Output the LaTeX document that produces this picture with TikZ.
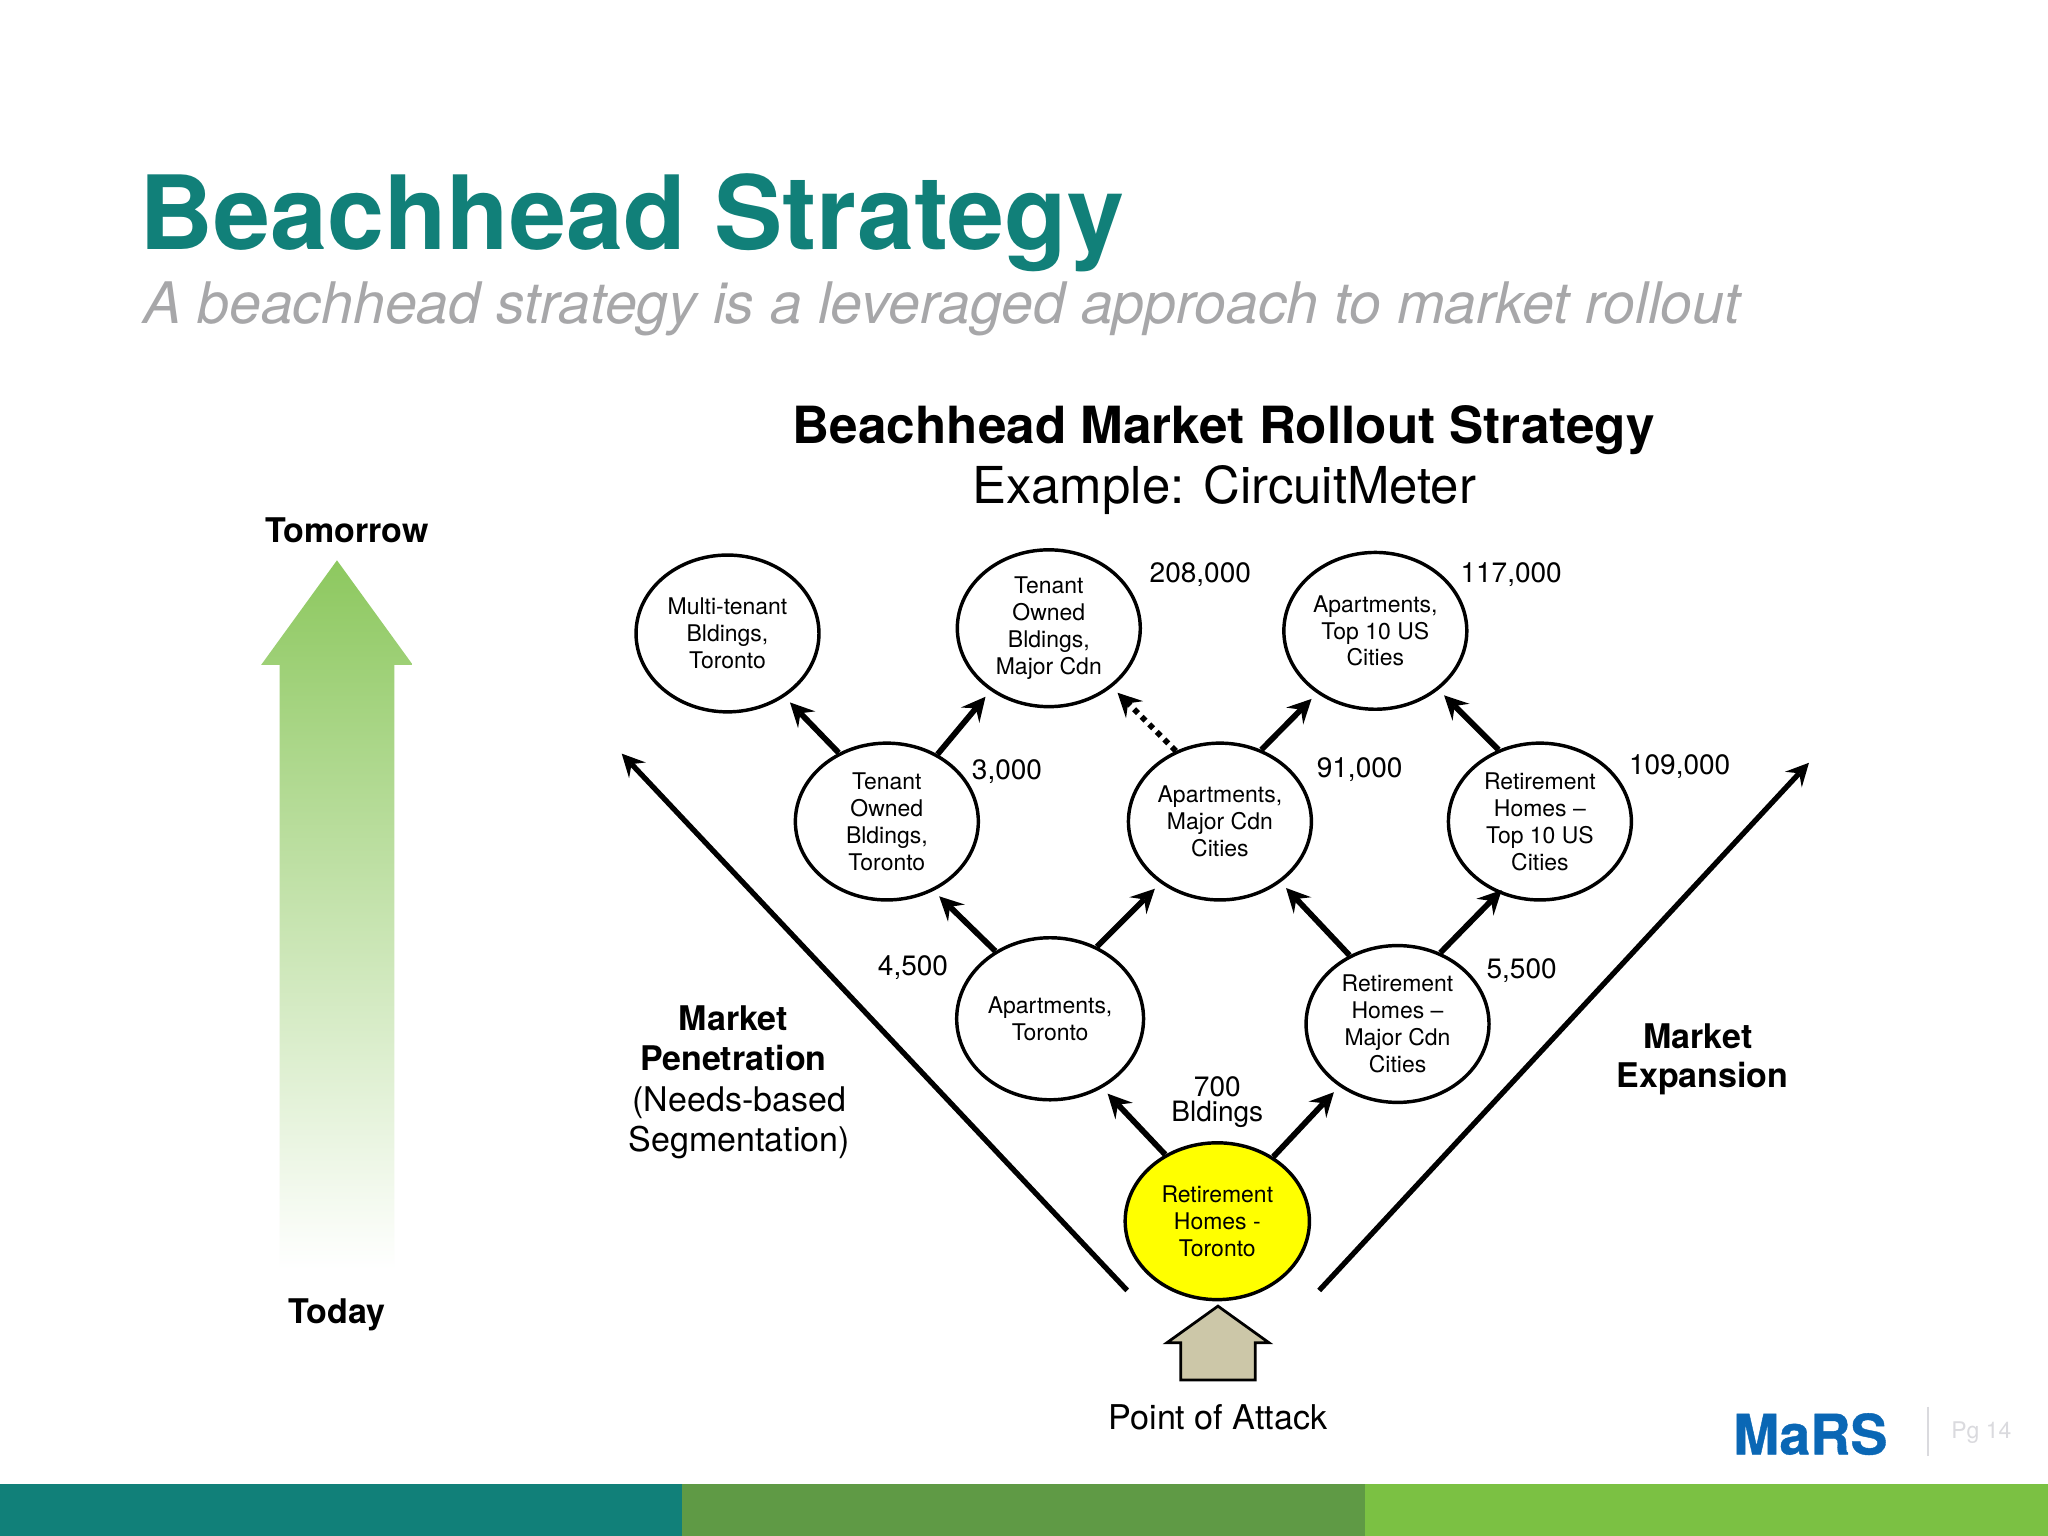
\documentclass[tikz,border=0pt]{standalone}
\usepackage{fontspec}
\usetikzlibrary{shapes.geometric}
\setmainfont{TeX Gyre Heros}
\newfontfamily\logofont[BoldFeatures={FakeBold=0.7}]{TeX Gyre Heros}
\definecolor{teal1}{HTML}{118079}
\definecolor{olive1}{HTML}{5F9A45}
\definecolor{green1}{HTML}{7BC143}
\definecolor{green2}{HTML}{8DC85F}
\definecolor{grey1}{HTML}{A7A7A9}
\definecolor{grey2}{HTML}{DADADE}
\definecolor{blue1}{HTML}{0A67B5}
\definecolor{sand1}{HTML}{CCC7A8}
\definecolor{yellow1}{HTML}{FFFF00}
\newcommand{\fs}[2]{\fontsize{#1}{#2}\selectfont}
\tikzset{
  seg/.style={ellipse,draw,line width=0.75pt,minimum width=1.4cm,minimum height=1.2cm,inner sep=0pt,align=center,font=\fs{5}{5.85}},
  num/.style={inner sep=0pt,font=\fs{6.1}{7.3}},
  side/.style={inner sep=0pt,align=center,font=\fs{7.4}{8.8}},
  when/.style={inner sep=0pt,font=\bfseries\fs{7.4}{8.8}},
  link/.style={>=stealth,->,line width=1.25pt},
  vee/.style={>=stealth,->,line width=1.15pt}
}
\begin{document}
\begin{tikzpicture}[x=0.01cm,y=-0.01cm]
\useasboundingbox (0,0) rectangle (1568,1176);
\fill[white] (0,0) rectangle (1568,1176);
\fill[teal1] (0,1136) rectangle (522,1176);
\fill[olive1] (522,1136) rectangle (1045,1176);
\fill[green1] (1045,1136) rectangle (1568,1176);
\node[inner sep=0pt,anchor=base west,text=teal1,font=\bfseries\fs{22.3}{26}] (title) at (106,191) {Beachhead Strategy};
\node[inner sep=0pt,anchor=base west,text=grey1,font=\itshape\fs{12.47}{16}] (subtitle) at (109,248) {A beachhead strategy is a leveraged approach to market rollout};
\node[inner sep=0pt,font=\bfseries\fs{11.16}{13}] (head) at (937,329) {Beachhead Market Rollout Strategy};
\node[inner sep=0pt,font=\fs{11.08}{13}] (example) at (937.5,375) {Example: CircuitMeter};
\node[when] (tomorrow) at (265.5,406) {Tomorrow};
\node[when] (today) at (258,1007) {Today};
\shade[top color=green2,bottom color=white] (258,429) -- (316,509) -- (302,509) -- (302,972) -- (214,972) -- (214,509) -- (200,509) -- cycle;
\node[seg] (multi) at (557,485) {Multi-tenant\\Bldings,\\Toronto};
\node[seg] (tenmaj) at (803,481) {Tenant\\Owned\\Bldings,\\Major Cdn};
\node[seg] (apttop) at (1053,483) {Apartments,\\Top 10 US\\Cities};
\node[seg] (tentor) at (679,629) {Tenant\\Owned\\Bldings,\\Toronto};
\node[seg] (aptmaj) at (934,629) {Apartments,\\Major Cdn\\Cities};
\node[seg] (rettop) at (1179,629) {Retirement\\Homes --\\Top 10 US\\Cities};
\node[seg,minimum width=1.43cm,minimum height=1.24cm] (apttor) at (804,780) {Apartments,\\Toronto};
\node[seg] (retmaj) at (1070,784) {Retirement\\Homes --\\Major Cdn\\Cities};
\node[seg,minimum width=1.41cm,fill=yellow1] (start) at (932,935) {Retirement\\Homes -\\Toronto};
\foreach \a/\s/\b/\e in {start/128/apttor/-53,start/49/retmaj/-133,apttor/129/tentor/-56,apttor/57/aptmaj/-134,retmaj/125/aptmaj/-45,tentor/125/multi/-48,tentor/53/tenmaj/-133,aptmaj/60/apttop/-133,rettop/120/apttop/-43}
\draw[link,shorten >=1.7pt] (\a.\s) -- (\b.\e);
\draw[link,shorten >=-1pt] (retmaj.59) -- (rettop.-120);
\draw[link,shorten >=1.7pt,dash pattern=on 1.2pt off 1.13pt] (aptmaj.122) -- (tenmaj.-43);
\coordinate (leftend) at (863,988);
\coordinate (lefttip) at (476,577);
\coordinate (rightend) at (1010,988);
\coordinate (righttip) at (1385,584);
\draw[vee] (leftend) -- (lefttip);
\draw[vee] (rightend) -- (righttip);
\foreach \i/\x/\y/\t in {a/919/440/{208,000},b/1157/440/{117,000},c/771/591/{3,000},d/1041/589/{91,000},e/1286/587/{109,000},f/699/741/{4,500},g/1165/743/{5,500}}
\node[num] (count\i) at (\x,\y) {\t};
\node[num,align=center,font=\fs{6.1}{5.55}] (countstart) at (932,844) {700\\Bldings};
\node[side] (penetration) at (566,828.5) {\textbf{Market}\kern2.56pt\\\textbf{Penetration}\kern2.56pt\\(Needs-based\\Segmentation)};
\node[side,font=\bfseries\fs{7.4}{8.6}] (expansion) at (1303.5,811) {Market\kern2pt\\Expansion};
\draw[line width=0.6pt,fill=sand1] (932.5,1000) -- (971.5,1028) -- (961,1028) -- (961,1056.5) -- (904,1056.5) -- (904,1028) -- (893.5,1028) -- cycle;
\node[inner sep=0pt,font=\fs{7.43}{8}] (attack) at (932.5,1085) {Point of Attack};
\node[inner sep=0pt,text=blue1,font=\logofont\bfseries\fs{12.1}{13}] (logo) at (1386,1098) {MaRS};
\draw[grey2,line width=0.4pt] (1476,1077) -- (1476,1115);
\node[inner sep=0pt,text=grey2,font=\fs{5}{6}] (page) at (1517,1097) {Pg 14};
\end{tikzpicture}
\end{document}
